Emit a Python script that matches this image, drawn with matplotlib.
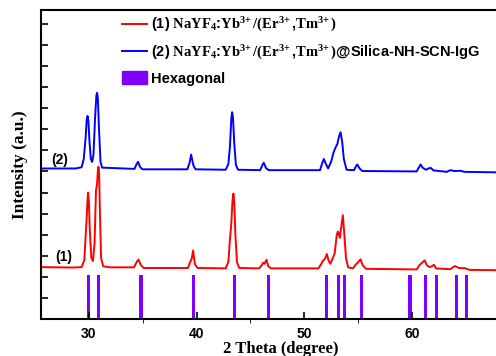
import numpy as np
import matplotlib
matplotlib.use("Agg")
import matplotlib.pyplot as plt
from matplotlib.patches import Patch
from matplotlib.lines import Line2D

plt.rcParams['font.family'] = ['Liberation Sans', 'DejaVu Sans']
plt.rcParams['font.weight'] = 'bold'
plt.rcParams['mathtext.fontset'] = 'custom'
plt.rcParams['mathtext.rm'] = 'Liberation Serif:bold'
plt.rcParams['mathtext.bf'] = 'Liberation Serif:bold'
plt.rcParams['mathtext.it'] = 'Liberation Serif:bold'

# (1) NaYF4:Yb/(Er,Tm)
red_x = [25.6, 28.5, 29.35, 29.6, 29.75, 29.82, 29.89, 29.95, 30.02, 30.1, 30.25, 30.4, 30.55, 30.68,
         30.78, 30.85, 30.91, 30.97, 31.05, 31.15, 31.35, 32.0, 34.2, 34.45, 34.62, 34.85, 35.1,
         39.2, 39.45, 39.55, 39.68, 39.85, 40.1, 42.7, 42.95, 43.1, 43.22, 43.33, 43.42, 43.5,
         43.6, 43.75, 43.95, 45.8, 46.05, 46.17, 46.3, 46.48, 46.65, 46.9, 51.3, 51.55, 51.74,
         51.9, 52.08, 52.25, 52.4, 52.6, 52.8, 53.0, 53.1, 53.2, 53.28, 53.42, 53.56, 53.7, 53.85,
         54.05, 54.5, 54.75, 54.9, 55.2, 55.4, 55.7, 60.4, 60.7, 60.85, 61.14, 61.35, 61.6, 61.8,
         62.0, 62.2, 63.5, 63.95, 64.3, 64.88, 65.3, 70.1]
red_y = [2.46, 2.44, 2.46, 2.8, 4.2, 4.8, 5.6, 6.0, 5.6, 4.3, 2.9, 2.75, 3.6, 6.1,
         6.4, 7.0, 7.22, 6.9, 5.0, 2.9, 2.5, 2.45, 2.45, 2.7, 2.82, 2.55, 2.42,
         2.42, 2.75, 2.85, 3.25, 2.6, 2.42, 2.4, 2.7, 3.8, 4.5, 5.6, 5.95, 5.5,
         4.0, 2.7, 2.42, 2.4, 2.55, 2.67, 2.62, 2.81, 2.5, 2.4, 2.4, 2.6, 2.78,
         2.85, 3.08, 2.75, 2.62, 2.85, 3.1, 4.0, 4.15, 4.0, 3.85, 4.4, 4.92, 4.0, 2.9,
         2.45, 2.4, 2.58, 2.65, 2.83, 2.55, 2.38, 2.35, 2.58, 2.64, 2.78, 2.55, 2.46, 2.5,
         2.57, 2.4, 2.36, 2.51, 2.42, 2.41, 2.33, 2.3]

# (2) NaYF4:Yb/(Er,Tm)@Silica-NH-SCN-IgG
blue_x = [25.6, 28.8, 29.35, 29.55, 29.72, 29.82, 29.9, 29.98, 30.08, 30.2, 30.32, 30.45, 30.6,
          30.72, 30.78, 30.85, 30.97, 31.1, 31.25, 34.25, 34.45, 34.58, 34.78, 35.0, 39.15, 39.35,
          39.5, 39.7, 39.9, 42.7, 42.95, 43.1, 43.22, 43.3, 43.38, 43.5, 43.65, 43.85, 45.9, 46.1,
          46.23, 46.45, 46.7, 51.45, 51.65, 51.8, 51.95, 52.2, 52.5, 52.7, 52.88, 53.05, 53.2,
          53.35, 53.5, 53.65, 53.9, 54.6, 54.78, 54.9, 55.1, 55.35, 60.4, 60.62, 60.77, 60.95,
          61.25, 61.5, 61.7, 61.95, 63.2, 63.5, 63.9, 64.5, 64.8, 70.1]
blue_y = [7.14, 7.14, 7.2, 7.6, 8.6, 9.45, 9.63, 9.4, 8.4, 7.6, 7.45, 7.8, 9.6,
          10.6, 10.73, 10.5, 8.9, 7.45, 7.18, 7.12, 7.35, 7.46, 7.2, 7.1, 7.1, 7.4,
          7.8, 7.3, 7.1, 7.08, 7.35, 8.2, 9.5, 9.81, 9.55, 8.3, 7.3, 7.08, 7.06, 7.3,
          7.41, 7.15, 7.06, 7.06, 7.4, 7.59, 7.4, 7.14, 7.5, 7.9, 8.13, 8.3, 8.65,
          8.86, 8.4, 7.6, 7.08, 7.06, 7.25, 7.33, 7.15, 7.02, 7.0, 7.2, 7.33, 7.18,
          7.08, 7.14, 7.17, 7.05, 6.98, 7.06, 7.02, 7.03, 6.98, 6.94]

# hexagonal reference lines
hex_pos = [30.0, 30.9, 34.86, 39.74, 43.54, 46.64, 52.05, 53.19, 53.72, 55.27,
           59.78, 61.23, 62.25, 64.1, 65.04]
hex_h = [2.1] * len(hex_pos)

red = '#ff0000'
blue = '#0000ff'
purple = '#8000ff'

fig = plt.figure(figsize=(4.96, 3.56), dpi=100)
ax = fig.add_axes([0.083, 0.104, 0.968, 0.868])

ax.plot(red_x, red_y, color=red, lw=1.4)
ax.plot(blue_x, blue_y, color=blue, lw=1.4)
ax.bar(hex_pos, hex_h, width=0.3, color=purple, bottom=0)

ax.text(27.3, 7.55, '(2)', fontsize=10, fontweight='bold', ha='center', va='center')
ax.text(27.7, 2.95, '(1)', fontsize=10, fontweight='bold', ha='center', va='center')

ax.set_xlim(25.6, 70.1)
ax.set_ylim(0, 14.66)
ax.set_xticks([30, 40, 50, 60])
ax.set_xticks([35, 45, 55], minor=True)
ax.set_yticks(np.arange(1, 15))
ax.set_yticklabels([])
ax.tick_params(axis='both', direction='in', width=1.2)
ax.tick_params(axis='x', which='major', length=5, pad=6, labelsize=10)
ax.tick_params(axis='x', which='minor', length=3)
ax.tick_params(axis='y', length=5)
for s in ax.spines.values():
    s.set_linewidth(1.5)

ax.set_xlabel('2 Theta (degree)', family='Liberation Serif', fontweight='bold', fontsize=12, labelpad=0)
ax.set_ylabel('Intensity (a.u.)', family='Liberation Serif', fontweight='bold', fontsize=12.5, labelpad=6)

handles = [Line2D([], [], color=red, lw=1.4),
           Line2D([], [], color=blue, lw=1.4),
           Patch(facecolor=purple, edgecolor=purple)]
labels = [r'(1) $\mathbf{NaYF_4}$:$\mathbf{Yb^{3\!+}/(Er^{3\!+}}$,$\mathbf{Tm^{3\!+})}$',
          r'(2) $\mathbf{NaYF_4}$:$\mathbf{Yb^{3\!+}/(Er^{3\!+}}$,$\mathbf{Tm^{3\!+})}$@Silica-NH-SCN-IgG',
          'Hexagonal']
fig.legend(handles, labels, loc='upper left', bbox_to_anchor=(122 / 496, 1 - 16 / 356),
           frameon=False, fontsize=10.5, handlelength=1.7, handleheight=0.9, handletextpad=0.3,
           labelspacing=0.65, borderpad=0, borderaxespad=0)

fig.savefig('out.png', dpi=100)
